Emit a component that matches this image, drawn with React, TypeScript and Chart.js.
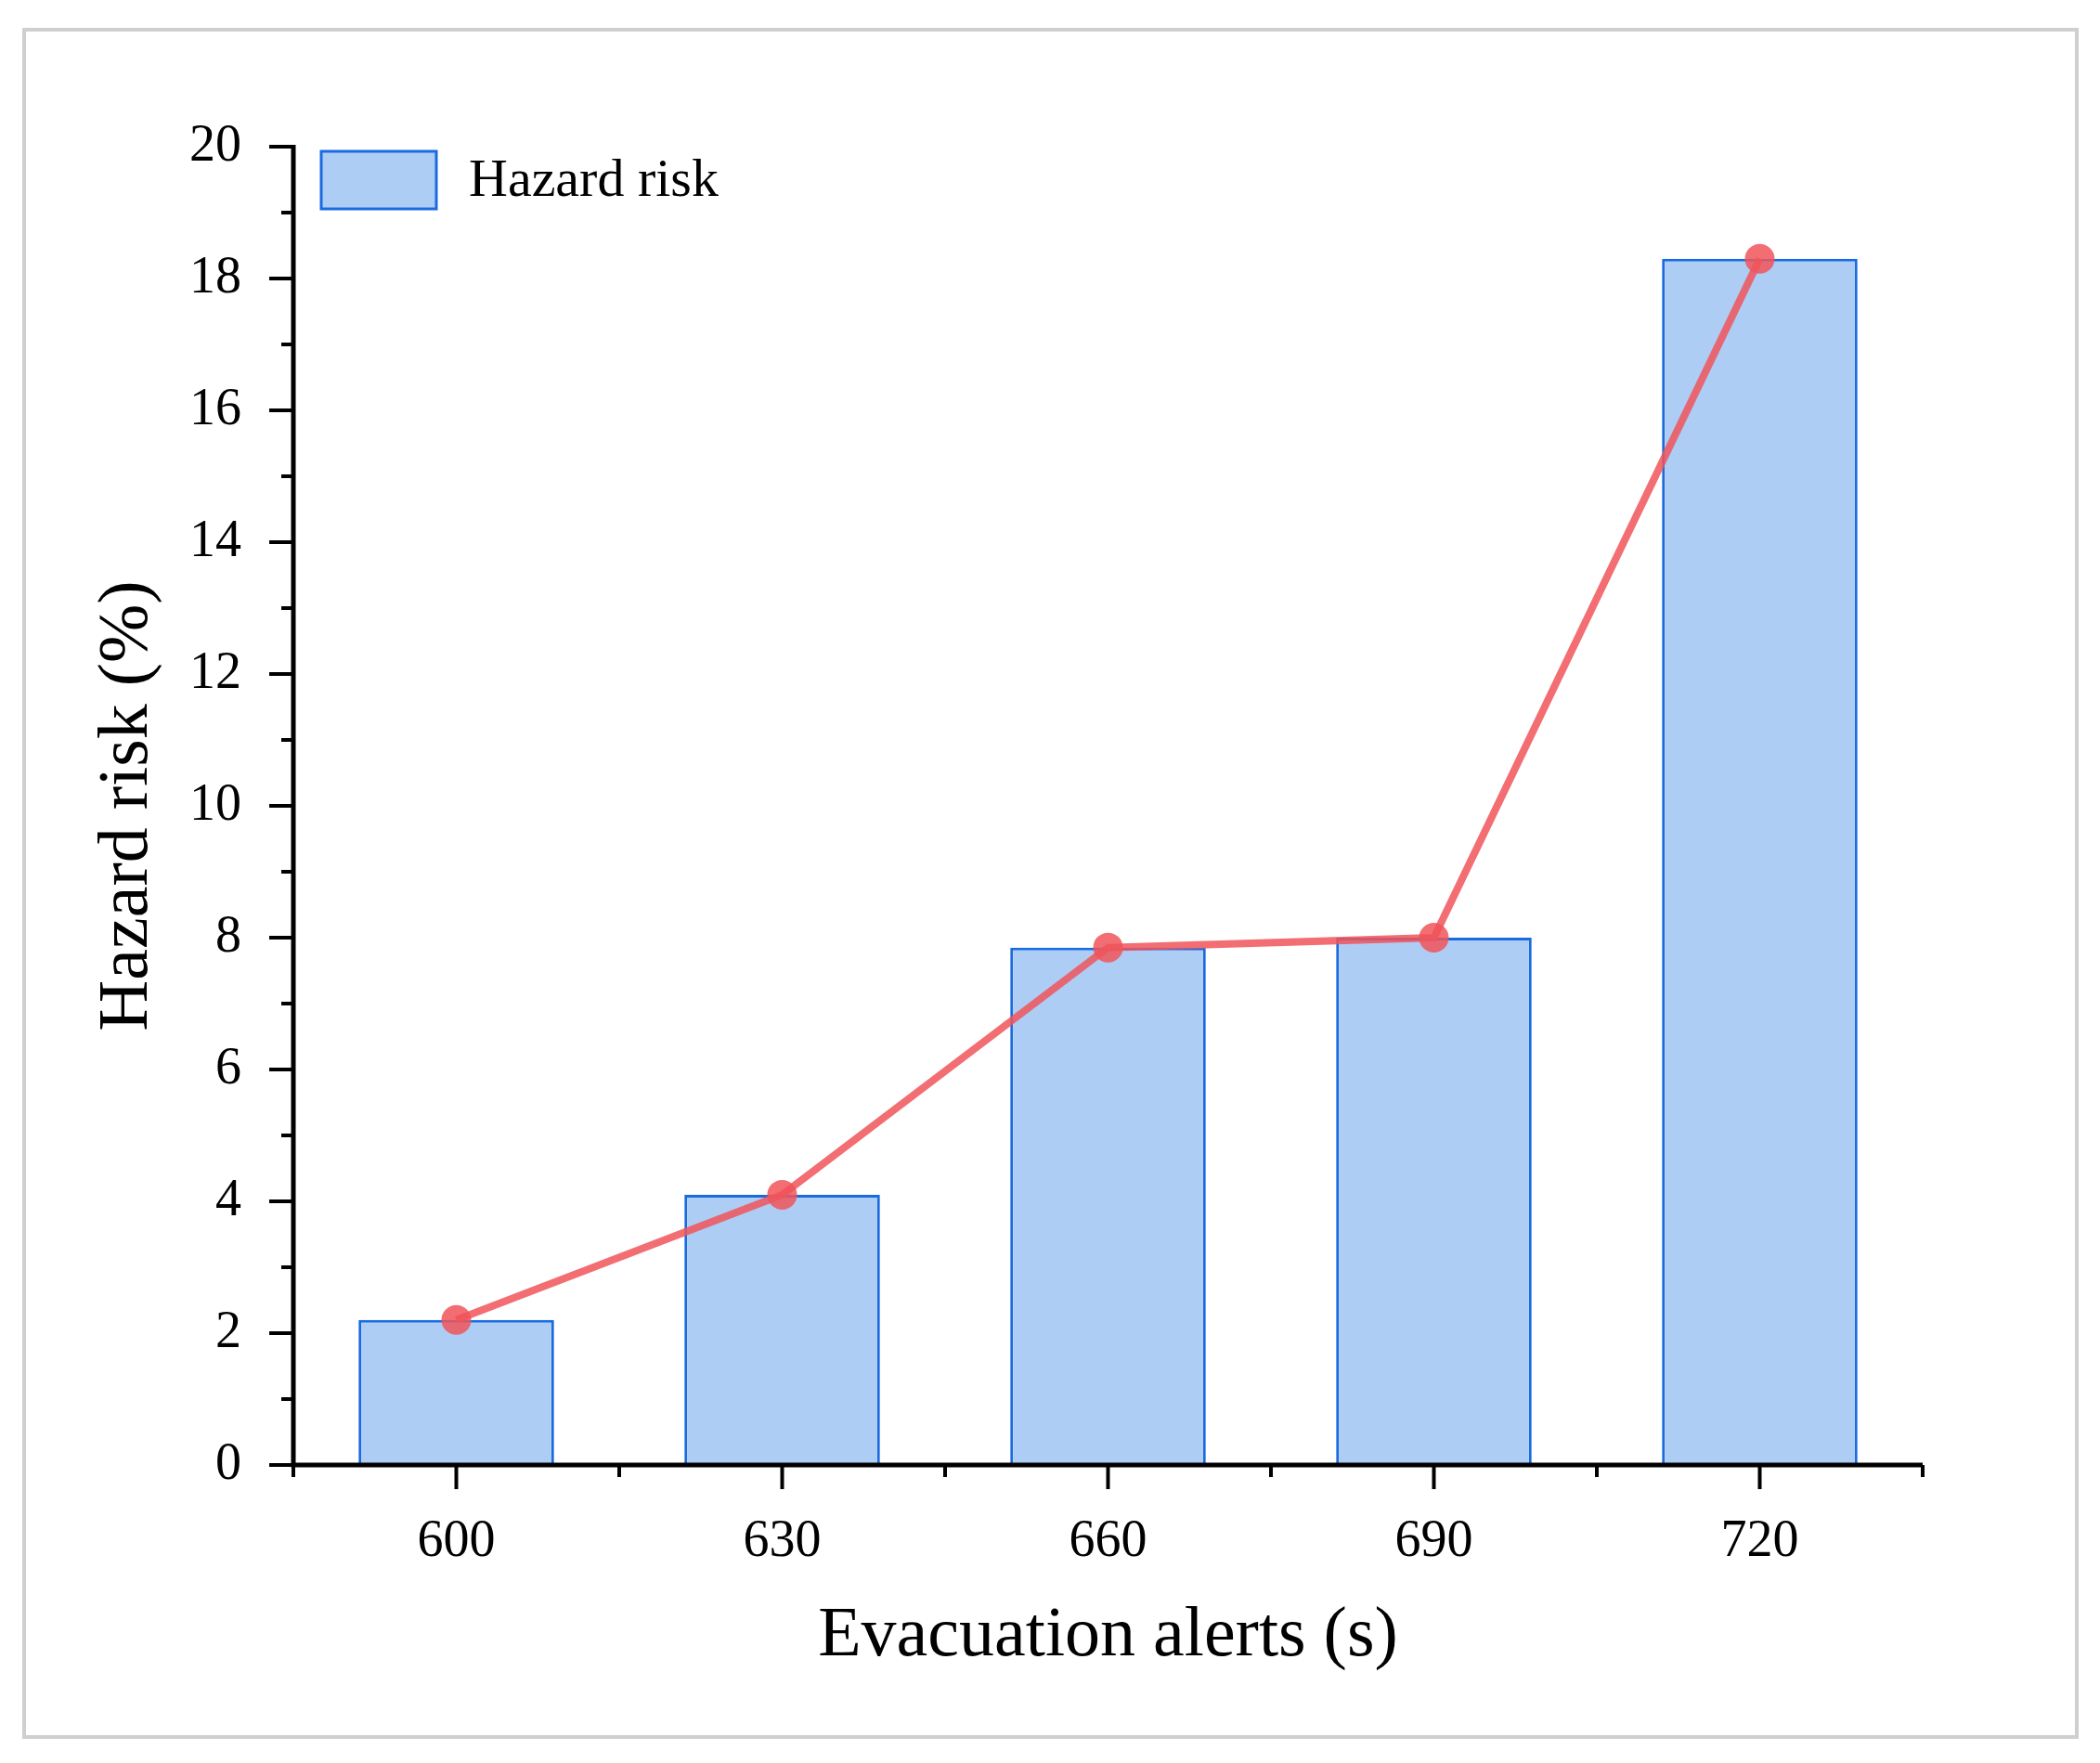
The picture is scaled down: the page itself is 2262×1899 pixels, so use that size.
import React, { useEffect, useRef } from "react";
import { Chart, registerables } from "chart.js";
Chart.register(...registerables);

const categories = ["600", "630", "660", "690", "720"];
const hazardRisk = [2.2, 4.1, 7.85, 8.0, 18.3];
const yMin = 0;
const yMax = 20;
const FONT = "'Liberation Serif', 'Times New Roman', serif";

const decor = {
  id: "decor",
  afterDraw(chart: any) {
    const ctx = chart.ctx;
    const a = chart.chartArea;
    const x = chart.scales.x;
    const y = chart.scales.y;
    ctx.save();
    // frame
    ctx.strokeStyle = "#cfcfcf";
    ctx.lineWidth = 4;
    ctx.strokeRect(26, 32, 2211, 1839);
    // axes
    ctx.strokeStyle = "#000";
    ctx.lineWidth = 5;
    ctx.beginPath();
    ctx.moveTo(a.left, a.top - 2);
    ctx.lineTo(a.left, a.bottom);
    ctx.lineTo(a.right, a.bottom);
    ctx.stroke();
    ctx.lineWidth = 4;
    for (let v = yMin; v <= yMax; v++) {
      const py = y.getPixelForValue(v);
      const len = v % 2 === 0 ? 26 : 13;
      ctx.beginPath();
      ctx.moveTo(a.left - len, py);
      ctx.lineTo(a.left, py);
      ctx.stroke();
    }
    for (let i = 0; i < categories.length; i++) {
      const px = x.getPixelForValue(i);
      ctx.beginPath();
      ctx.moveTo(px, a.bottom);
      ctx.lineTo(px, a.bottom + 26);
      ctx.stroke();
    }
    for (let i = 0; i <= categories.length; i++) {
      const px = x.getPixelForValue(i - 0.5);
      ctx.beginPath();
      ctx.moveTo(px, a.bottom);
      ctx.lineTo(px, a.bottom + 13);
      ctx.stroke();
    }
    // legend
    const lx = a.left + 30, ly = a.top + 5;
    ctx.fillStyle = "#aecdf5";
    ctx.fillRect(lx, ly, 124, 62);
    ctx.strokeStyle = "#1a6be0";
    ctx.lineWidth = 3;
    ctx.strokeRect(lx, ly, 124, 62);
    ctx.fillStyle = "#000";
    ctx.font = `58px ${FONT}`;
    ctx.textBaseline = "middle";
    ctx.fillText("Hazard risk", lx + 159, ly + 33);
    ctx.restore();
  },
};

export default function App() {
  const ref = useRef<HTMLCanvasElement>(null);
  useEffect(() => {
    const chart = new Chart(ref.current!, {
      type: "bar",
      data: {
        labels: categories,
        datasets: [
          {
            type: "line",
            label: "Hazard risk line",
            data: hazardRisk,
            borderColor: "rgba(240,85,90,0.85)",
            backgroundColor: "rgba(240,85,90,0.85)",
            borderWidth: 8,
            pointRadius: 16,
            pointBorderWidth: 0,
            order: 0,
          },
          {
            type: "bar",
            label: "Hazard risk",
            data: hazardRisk,
            backgroundColor: "#aecdf5",
            borderColor: "#1a6be0",
            borderWidth: 3,
            barPercentage: 0.6,
            categoryPercentage: 1,
            order: 1,
          },
        ],
      },
      options: {
        responsive: false,
        animation: false,
        devicePixelRatio: 1,
        layout: { padding: { left: 60, right: 191, top: 158, bottom: 90 } },
        plugins: { legend: { display: false }, tooltip: { enabled: false } },
        scales: {
          x: {
            offset: true,
            grid: { display: false },
            border: { display: false },
            ticks: { color: "#000", font: { family: FONT, size: 56 }, padding: 42 },
            title: {
              display: true,
              text: "Evacuation alerts (s)",
              color: "#000",
              font: { family: FONT, size: 76 },
              padding: { top: 0, bottom: 0 },
            },
            afterFit: (s: any) => { s.height = 231; },
          },
          y: {
            min: yMin,
            max: yMax,
            grid: { display: false },
            border: { display: false },
            ticks: { stepSize: 2, color: "#000", font: { family: FONT, size: 56 }, padding: 48 },
            title: {
              display: true,
              text: "Hazard risk (%)",
              color: "#000",
              font: { family: FONT, size: 76 },
              padding: { top: 32, bottom: 0 },
            },
            afterFit: (s: any) => { s.width = 256; },
          },
        },
      },
      plugins: [decor],
    } as any);
    return () => chart.destroy();
  }, []);
  return (
    <div style={{ position: "fixed", left: 0, top: 0, background: "#fff" }}>
      <canvas ref={ref} width={2262} height={1899} style={{ width: 2262, height: 1899, display: "block" }} />
    </div>
  );
}
